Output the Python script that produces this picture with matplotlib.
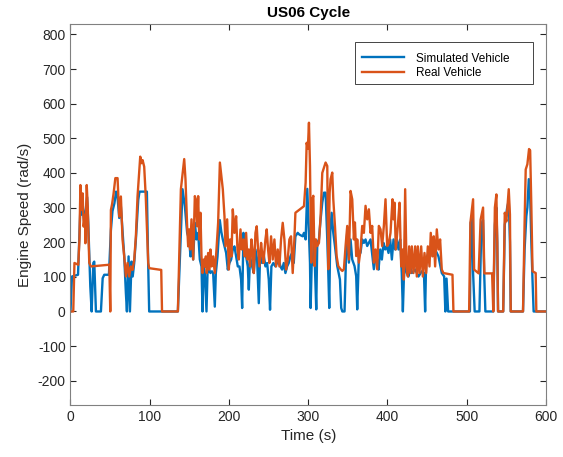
import matplotlib
matplotlib.use("Agg")
import matplotlib.pyplot as plt
from matplotlib.patches import Rectangle

plt.rcParams['font.family'] = ['Liberation Sans', 'DejaVu Sans']
plt.rcParams['axes.unicode_minus'] = False

# Simulated vehicle engine speed (time in s, speed in rad/s)
t_sim = [0, 1.9, 9.5, 11, 12.5, 14, 15.5, 17.5, 19.5, 21, 22.5, 24, 25, 26.7,
         28.8, 30, 32.1, 38.4, 40.6, 42.6, 48.5,
         51, 53, 55.4, 57.5, 59.4, 61.5, 63.6, 65.7, 67.8, 69.9, 71.2, 73.3, 75,
         77, 78.5, 80.4, 82.5, 85.5, 87.1, 96.4, 98, 99.3, 135.5,
         141.4, 144.3, 147.2, 149.8, 151.4, 152.7, 154.8, 156.9, 159, 161.1,
         163.2, 165.3, 166.6, 167.8, 169.5, 171.6, 172.9, 175, 176.6, 178.5,
         180, 182.1, 183.4, 185.5, 188.4, 190.3,
         192.2, 194.3, 196.4, 198.5, 200.6, 202.7, 204.8, 206.9, 209, 211.1,
         213.2, 215.3, 216.6, 218.2, 219.9, 221.6, 223.7, 225, 226.6, 229.2,
         231.3, 233.4, 235.5, 237.6, 239.2, 241.8, 243.4, 246, 248.1, 250.2,
         251.8, 253.5, 256, 258.6, 260.7, 262.8, 264.9, 267, 269.1, 271.2,
         273.3, 275.4, 277.5, 279.6, 281.7, 283.8, 286.7, 288.8, 293,
         294.6, 296.7, 298.8, 300.9, 302.2, 303, 304.3, 306, 307.2, 308.4,
         310.1, 311.4, 313.5, 315.6, 317.7, 319.8, 321.9, 324, 325.3, 326.5,
         327.8, 329.5, 331.6, 333.7, 336.6, 340, 341.6, 343, 345.8, 347.9,
         349.2, 351.3, 353.4, 355.5, 358.4, 360.5, 361.8, 363.9, 366, 368.1,
         370.2, 372.3, 374.4, 378.6, 382.8, 384.9, 387, 388.7, 390.8, 392.9,
         395, 397.1, 399.2, 401.3, 403.4, 405.5, 407.6, 409.7, 411.8, 413.9,
         416, 418, 419.4, 420.6, 422.3, 424.4, 426.5, 428.6, 430.7, 434.9,
         439.1, 443.3, 446, 447.5, 448.8, 451.7, 453.8, 455.9, 458, 460.1,
         464.3, 468.5, 471.5, 473, 474.5, 476.5, 504,
         505, 506.7, 508, 510, 516, 518.5, 520.5, 522, 523.5, 533.5, 535.5,
         537.4, 538.5, 539.5, 546, 548, 551, 553, 554.5, 555.5, 571, 573,
         575.2, 576.5, 578.3, 579.5, 581.5, 583, 584.4, 600]
v_sim = [0, 101, 106, 200, 300, 280, 300, 260, 300, 330, 250, 140, 72, 0,
         140, 144, 0, 0, 96, 106, 106,
         235, 290, 312, 346, 330, 270, 303, 230, 160, 53, 0, 159, 0,
         144, 101, 140, 207, 322, 346, 346, 140, 0, 0,
         353, 304, 227, 208, 159, 208, 150, 256, 208, 227,
         150, 130, 0, 130, 111, 0, 111, 121, 111, 116,
         111, 14, 111, 159, 264, 230,
         208, 188, 169, 121, 140, 150, 179, 188, 159, 130,
         130, 92, 10, 227, 179, 159, 130, 63, 159, 130,
         111, 179, 150, 24, 159, 140, 169, 130, 140, 92,
         5, 130, 140, 130, 140, 150, 130, 121, 140, 111,
         130, 140, 159, 169, 140, 217, 227, 222, 217,
         227, 208, 354, 227, 141, 10, 131, 150, 208, 131,
         6, 198, 208, 266, 314, 343, 343, 208, 112, 10,
         227, 285, 227, 189, 131, 92, 10, 0, 0, 179,
         228, 141, 208, 150, 131, 102, 6, 160, 170, 208,
         198, 208, 189, 208, 122, 160, 150, 121, 179, 150,
         198, 179, 188, 169, 208, 150, 208, 179, 208, 179,
         208, 111, 0, 92, 150, 111, 101, 130, 111, 121,
         101, 116, 111, 0, 150, 169, 159, 179, 188, 179,
         159, 111, 101, 0, 95, 0, 0,
         256, 269, 111, 0, 0, 250, 264, 111, 0, 0, 250,
         300, 200, 0, 0, 250, 300, 320, 200, 0, 0, 179,
         275, 300, 382, 380, 200, 90, 0, 0]

# Real vehicle engine speed
t_real = [0, 3.5, 5, 9.8, 11.3, 12.5, 14, 15.3, 16.6, 18.3, 18.8, 20.5, 21.8,
          22.5, 23.7, 25.8, 49, 50.2, 51, 52.5, 54.4, 56.6, 59.4, 61.5, 63.6,
          65.7, 67.8, 69.9, 72, 74.1, 76.2, 78.3, 80.4, 82.5, 84.6, 86.7, 88,
          89.7, 91, 93, 95, 96.4, 98.1, 99.3, 114.5, 115.5, 135.5,
          139.3, 143.5, 145.1, 147.2, 148.5, 149.8, 151, 152.7, 154.8, 156.9,
          158.2, 159.8, 161.1, 162.5, 164, 165.3, 166.6, 168.2, 169.5, 170.8,
          172, 173.7, 175, 176.6, 178, 180, 182.1, 184.2, 186.3, 188.5,
          192.2, 194.3, 195.6, 197.7, 199.8, 201.4, 203.1, 204.8, 206.9, 209,
          210.7, 212.4, 214.5, 216.1, 218.2, 219.9, 221.6, 223.3, 225, 226.6,
          228.3, 230, 231.3, 233.4, 235, 236.7, 238.4, 240.5, 241.8, 243.4,
          246, 247.6, 249.3, 251, 253.1, 255.2, 257.3, 259.4, 261.5, 263.6,
          265.7, 267.8, 269.9, 272, 274.1, 276.2, 278.3, 280.4, 282.5, 283.8,
          286.7, 289.6, 292.5, 294.6, 296.7, 298, 299.5, 300.9, 302.2, 303.8,
          305.1, 306.4, 308, 309.7, 311.4, 313.5, 315.6, 317.7, 319.8, 321.9,
          324, 325.3, 327, 328.2, 330.3, 331.6, 333.7, 335.8, 337.9, 340.8,
          343, 345, 347.1, 349.2, 351.3, 353.4, 355.5, 357.6, 358.9, 360.5,
          361.8, 363.9, 366, 368.1, 370.2, 372.3, 374.4, 376.5, 378.6, 380.7,
          382.8, 384.9, 387, 389.1, 391.2, 393.3, 395.4, 397.5, 399.6, 401.7,
          403.8, 406.3, 407.6, 408.9, 410.5, 413, 415.2, 417.3, 419, 420.6,
          422.3, 424, 425.7, 427.3, 429, 430.7, 432.8, 434.9, 437, 438.3,
          440.4, 442.5, 444.6, 446.7, 448.8, 450.9, 453, 454.6, 456.7, 458.4,
          460.1, 462.2, 464.3, 466.4, 468.5, 470.6, 482, 483.2, 503,
          504.6, 506.3, 508, 509.3, 515, 517.5, 520.6, 522.2, 532, 533.5,
          535.5, 537.4, 538.5, 539.5, 546, 548, 550, 553, 554.5, 555.5, 571,
          573, 574.4, 576.5, 578.6, 580, 581.5, 583, 587, 587.8, 600]
v_real = [0, 0, 140, 135, 208, 365, 293, 341, 245, 279, 197, 365, 300,
          235, 140, 130, 135, 0, 293, 310, 341, 385, 385, 274, 332,
          207, 159, 101, 140, 101, 130, 120, 149, 216, 332, 404, 447,
          428, 437, 418, 330, 245, 140, 125, 120, 0, 0,
          353, 440, 382, 246, 188, 237, 179, 266, 150, 333,
          323, 246, 333, 208, 285, 159, 111, 150, 130, 159,
          111, 169, 121, 179, 130, 159, 111, 179, 256, 430,
          353, 275, 188, 266, 121, 208, 159, 295, 227, 275,
          179, 150, 237, 179, 208, 159, 227, 150, 179, 130,
          208, 169, 111, 227, 246, 179, 130, 198, 169, 140,
          208, 237, 179, 140, 217, 150, 208, 130, 179, 130,
          208, 256, 208, 121, 150, 208, 217, 111, 208, 285,
          290, 295, 300, 304, 372, 487, 470, 545, 420, 141,
          324, 334, 131, 208, 189, 198, 276, 400, 415, 430,
          420, 122, 343, 382, 401, 324, 247, 160, 131, 122,
          117, 122, 189, 247, 150, 348, 324, 208, 257, 160,
          208, 141, 179, 247, 227, 305, 266, 295, 227, 247,
          141, 179, 122, 247, 237, 189, 247, 324, 189, 198,
          227, 324, 266, 314, 179, 246, 314, 130, 179, 92,
          353, 130, 101, 188, 111, 188, 111, 188, 101, 188,
          111, 188, 101, 169, 111, 188, 130, 227, 159, 217,
          130, 237, 179, 208, 121, 111, 106, 0, 0,
          256, 290, 324, 121, 110, 265, 300, 110, 110, 0,
          300, 338, 200, 0, 0, 285, 260, 353, 280, 0, 0,
          256, 410, 425, 469, 465, 304, 116, 111, 0, 0]

fig = plt.figure(figsize=(5.63, 4.57), dpi=100)
ax = fig.add_axes([0.1252, 0.1138, 0.8446, 0.8337])

ax.plot(t_sim, v_sim, color='#0072BD', linewidth=1.7, label='Simulated Vehicle')
ax.plot(t_real, v_real, color='#D95319', linewidth=1.7, label='Real Vehicle')

ax.set_xlim(0, 600)
ax.set_ylim(-270, 830)
ax.set_xticks(range(0, 601, 100))
ax.set_yticks(range(-200, 801, 100))
ax.tick_params(direction='in', top=True, right=True, length=4,
               labelsize=10, colors='#262626')
for s in ax.spines.values():
    s.set_color('#808080')
    s.set_linewidth(0.8)

ax.set_title('US06 Cycle', fontsize=11, fontweight='bold', color='black', pad=5)
ax.set_xlabel('Time (s)', fontsize=11, color='#262626')
ax.set_ylabel('Engine Speed (rad/s)', fontsize=11, color='#262626')

# MATLAB-style legend box (wide right margin)
ax.add_patch(Rectangle((0.598, 0.843), 0.375, 0.110, transform=ax.transAxes,
                       facecolor='white', edgecolor='#262626', linewidth=0.6,
                       zorder=4))
leg = ax.legend(loc='upper left', bbox_to_anchor=(0.613, 0.925), fontsize=8.5,
                frameon=False, handlelength=3.6, handletextpad=1.0,
                borderpad=0, labelspacing=0.2, borderaxespad=0)
leg.set_zorder(5)

fig.savefig('out.png', dpi=100)
